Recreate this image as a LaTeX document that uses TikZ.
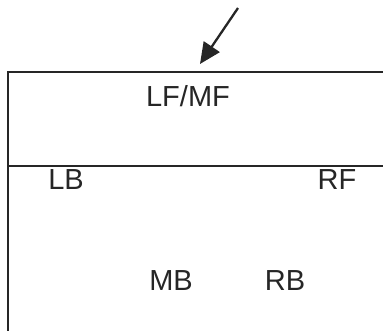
\documentclass[tikz,border=0pt]{standalone}
\usepackage{fontspec}
\setmainfont{Liberation Sans}
\usetikzlibrary{arrows.meta, positioning}
\tikzset{
  wall/.style={line width=2.3pt, color=black!85},
  label/.style={inner sep=0pt, font=\fontsize{29}{31}\selectfont, text=black!85},
  arrow/.style={-{Triangle[length=21pt, width=19pt]}, line width=2.3pt, color=black!85},
}
\begin{document}
\begin{tikzpicture}[x=1pt, y=-1pt]
  \useasboundingbox (0,0) rectangle (383,331);

  % outline of the zones
  \draw[wall] (383,72) -- (8,72) -- (8,331);
  \draw[wall] (8,166) -- (383,166);

  % zone labels
  \node[label] (lfmf) at (188,96) {LF/MF};
  \node[label] (lb)   at (66,180) {LB};
  \node[label] (rf)   at (337,180) {RF};
  \node[label] (mb)   at (171,281) {MB};
  \node[label] (rb)   at (285,281) {RB};

  % incoming direction
  \coordinate (src) at (238,8);
  \coordinate (hit) at (200,64);
  \draw[arrow] (src) -- (hit);
\end{tikzpicture}
\end{document}
